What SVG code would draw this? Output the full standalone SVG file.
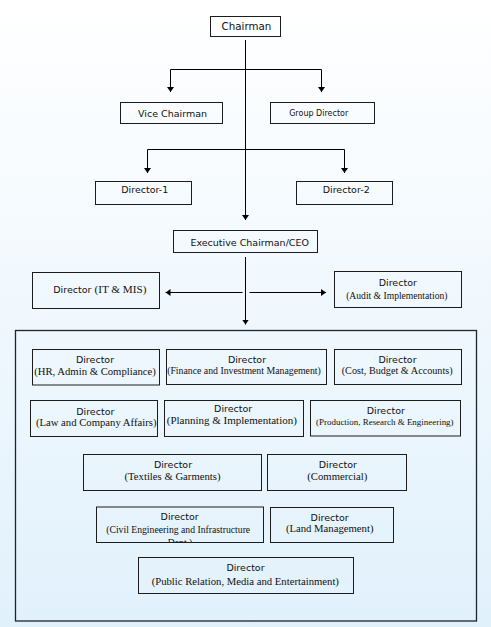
<svg xmlns="http://www.w3.org/2000/svg" width="491" height="627" viewBox="0 0 491 627">
<defs>
<linearGradient id="bg" x1="0" y1="0" x2="0" y2="1">
<stop offset="0" stop-color="#ffffff"/>
<stop offset="1" stop-color="#e1f1fc"/>
</linearGradient>
<marker id="arr" viewBox="0 -4 5 8" markerWidth="5" markerHeight="8" refX="5" refY="0" markerUnits="userSpaceOnUse" orient="auto">
<path d="M0,-3.5 L5,0 L0,3.5 z" fill="#000"/>
</marker>
<clipPath id="civilClip"><rect x="97" y="507" width="166" height="35"/></clipPath>
<style>
.box{fill:none;stroke:#1c1c1c;stroke-width:1}
.cont{fill:none;stroke:#1c2430;stroke-width:1.3}
.ln{fill:none;stroke:#000;stroke-width:1}
.s{font-family:"DejaVu Sans",Verdana,sans-serif;font-size:9.5px;fill:#111;text-anchor:middle}
.r{font-family:"Liberation Serif","Times New Roman",serif;font-size:10.7px;fill:#111;text-anchor:middle}
</style>
</defs>
<rect x="0" y="0" width="491" height="627" fill="url(#bg)"/>

<g id="connectors">
<path class="ln" d="M245.5,40 V220" marker-end="url(#arr)"/>
<path class="ln" d="M170.5,69.5 H321.5"/>
<path class="ln" d="M170.5,69.5 V92" marker-end="url(#arr)"/>
<path class="ln" d="M321.5,69.5 V92" marker-end="url(#arr)"/>
<path class="ln" d="M147.5,149.5 H344.5"/>
<path class="ln" d="M147.5,149.5 V173" marker-end="url(#arr)"/>
<path class="ln" d="M344.5,149.5 V173" marker-end="url(#arr)"/>
<path class="ln" d="M245.5,257 V324.5" marker-end="url(#arr)"/>
<path class="ln" d="M242.5,292.5 H165.5" marker-end="url(#arr)"/>
<path class="ln" d="M249.5,292.5 H326" marker-end="url(#arr)"/>
</g>

<g id="chairman">
<rect class="box" x="210.5" y="16.5" width="70" height="20"/>
<text class="s" x="246.5" y="30" style="font-size:10.3px">Chairman</text>
</g>
<g id="vice-chairman">
<rect class="box" x="120.5" y="102.5" width="102" height="21"/>
<text class="s" x="172.5" y="116.5">Vice Chairman</text>
</g>
<g id="group-director">
<rect class="box" x="270.5" y="102.5" width="104" height="21"/>
<text class="s" x="318.7" y="115.7" style="font-size:8px">Group Director</text>
</g>
<g id="director-1">
<rect class="box" x="95.5" y="181.5" width="96" height="23"/>
<text class="s" x="144.8" y="193.3">Director-1</text>
</g>
<g id="director-2">
<rect class="box" x="296.5" y="181.5" width="96" height="23"/>
<text class="s" x="346.2" y="193.3">Director-2</text>
</g>
<g id="executive-chairman">
<rect class="box" x="173.5" y="230.5" width="144" height="22"/>
<text class="s" x="249.7" y="245.7">Executive Chairman/CEO</text>
</g>
<g id="director-it-mis">
<rect class="box" x="32.5" y="272.5" width="127" height="36"/>
<text x="53.3" y="293" style="font-family:'DejaVu Sans',Verdana,sans-serif;font-size:9.5px;fill:#111">Director <tspan style="font-family:'Liberation Serif','Times New Roman',serif;font-size:11.2px">(IT &amp; MIS)</tspan></text>
</g>
<g id="director-audit">
<rect class="box" x="334.5" y="271.5" width="127" height="36"/>
<text class="s" x="397.8" y="285.5">Director</text>
<text class="r" x="396.8" y="298.5" style="font-size:9.6px">(Audit &amp; Implementation)</text>
</g>

<g id="directors-panel">
<rect class="cont" x="15.5" y="330.5" width="461" height="290.5"/>
</g>

<g id="director-hr">
<rect class="box" x="32.5" y="349.5" width="127" height="35.5"/>
<text class="s" x="95" y="362.5">Director</text>
<text class="r" x="95" y="374.8">(HR, Admin &amp; Compliance)</text>
</g>
<g id="director-finance">
<rect class="box" x="166.5" y="349.5" width="160" height="35"/>
<text class="s" x="247" y="362.5">Director</text>
<text class="r" x="244" y="374" style="font-size:9.8px">(Finance and Investment Management)</text>
</g>
<g id="director-cost">
<rect class="box" x="334.5" y="349.5" width="127" height="35"/>
<text class="s" x="397.5" y="362.5">Director</text>
<text class="r" x="397.2" y="373.8" style="font-size:10.2px">(Cost, Budget &amp; Accounts)</text>
</g>
<g id="director-law">
<rect class="box" x="30.5" y="400.5" width="127" height="36"/>
<text class="s" x="95.3" y="414.5">Director</text>
<text class="r" x="96.2" y="425.8">(Law and Company Affairs)</text>
</g>
<g id="director-planning">
<rect class="box" x="164.5" y="400.5" width="139" height="36"/>
<text class="s" x="233.2" y="411.5">Director</text>
<text class="r" x="231.8" y="424" style="font-size:11px">(Planning &amp; Implementation)</text>
</g>
<g id="director-production">
<rect class="box" x="310.5" y="400.5" width="150" height="35.5"/>
<text class="s" x="385.8" y="414">Director</text>
<text class="r" x="384.8" y="424.8" style="font-size:8.95px">(Production, Research &amp; Engineering)</text>
</g>
<g id="director-textiles">
<rect class="box" x="83.5" y="454.5" width="178" height="36"/>
<text class="s" x="173" y="468">Director</text>
<text class="r" x="172.5" y="479.8">(Textiles &amp; Garments)</text>
</g>
<g id="director-commercial">
<rect class="box" x="267.5" y="454.5" width="139" height="36"/>
<text class="s" x="337.8" y="468">Director</text>
<text class="r" x="337.3" y="479.8">(Commercial)</text>
</g>
<g id="director-civil">
<rect class="box" x="96.5" y="507" width="167" height="35.5"/>
<text class="s" x="179.7" y="520">Director</text>
<g clip-path="url(#civilClip)">
<text class="r" x="178.2" y="533" style="font-size:9.7px">(Civil Engineering and Infrastructure</text>
<text class="r" x="180" y="546" style="font-size:9.7px">Dept.)</text>
</g>
</g>
<g id="director-land">
<rect class="box" x="270.5" y="507.5" width="123" height="35"/>
<text class="s" x="329.7" y="520.5">Director</text>
<text class="r" x="329.7" y="531.5">(Land Management)</text>
</g>
<g id="director-public-relation">
<rect class="box" x="138.5" y="557.5" width="215" height="36"/>
<text class="s" x="245.5" y="570.5">Director</text>
<text class="r" x="245.3" y="584.8">(Public Relation, Media and Entertainment)</text>
</g>
</svg>
